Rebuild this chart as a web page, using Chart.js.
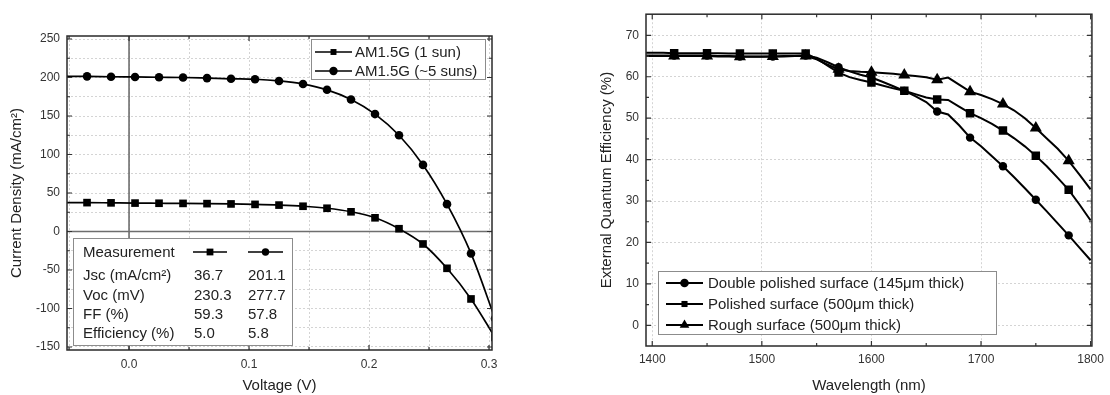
<!DOCTYPE html>
<html><head><meta charset="utf-8">
<script src="https://cdn.jsdelivr.net/npm/chart.js@4/dist/chart.umd.min.js"></script>
<style>
html,body{margin:0;padding:0;background:#fff;width:1110px;height:395px;overflow:hidden}
#c1{position:absolute;left:0;top:0;width:560px;height:395px}
#c2{position:absolute;left:580px;top:0;width:530px;height:395px}
</style></head><body>
<canvas id="c1" width="560" height="395"></canvas>
<canvas id="c2" width="530" height="395"></canvas>
<script>
// ---------- Left chart data (J-V) ----------
const ivVoltage = [-0.055,-0.035,-0.015,0.005,0.025,0.045,0.065,0.085,0.105,0.125,0.145,0.165,0.185,0.205,0.225,0.245,0.265,0.285,0.305];
const jOneSun  = [37.6,37.5,37.2,36.9,36.7,36.5,36.2,35.8,35.2,34.3,32.8,30.2,25.6,17.8,3.6,-16.2,-47.8,-87.6,-137.5];
const jFiveSun = [201.6,201.5,201.0,200.7,200.3,200.0,199.2,198.3,197.7,195.5,191.5,184.0,171.5,152.5,125.0,86.5,35.5,-28.5,-113.0];
const ivSeries = ['AM1.5G (1 sun)', 'AM1.5G (~5 suns)'];
const ivXGrid = [-0.05,0,0.05,0.1,0.15,0.2,0.25,0.3];
const ivXMajor = [0,0.1,0.2,0.3];
const ivXMajorLabels = ['0.0','0.1','0.2','0.3'];
const ivYGrid = [-150,-125,-100,-75,-50,-25,0,25,50,75,100,125,150,175,200,225,250];
const ivYMajor = [-150,-100,-50,0,50,100,150,200,250];
const tableHeader = 'Measurement';
const tableRows = ['Jsc (mA/cm\u00B2)','Voc (mV)','FF (%)','Efficiency (%)'];
const tableOneSun = ['36.7','230.3','59.3','5.0'];
const tableFiveSun = ['201.1','277.7','57.8','5.8'];

// ---------- Right chart data (EQE) ----------
const wavelength = [1390,1400,1410,1420,1430,1440,1450,1460,1470,1480,1490,1500,1510,1520,1530,1540,1550,1560,1570,1580,1590,1600,1610,1620,1630,1640,1650,1660,1670,1680,1690,1700,1710,1720,1730,1740,1750,1760,1770,1780,1790,1800];
const eqeDouble   = [65.1,65.1,65.1,65.1,65.1,65.1,65.1,65.0,65.0,64.9,64.9,64.9,64.9,65.0,65.0,65.1,64.6,63.5,62.3,61.3,60.5,59.8,58.8,57.7,56.6,55.3,53.9,51.6,50.9,48.3,45.3,43.2,40.8,38.4,35.8,33.1,30.3,27.5,24.6,21.7,18.7,15.7];
const eqePolished = [65.8,65.8,65.8,65.7,65.7,65.7,65.7,65.7,65.6,65.6,65.6,65.6,65.6,65.6,65.6,65.6,64.4,62.7,61.0,59.9,59.2,58.6,57.9,57.2,56.6,55.8,55.0,54.5,54.4,52.8,51.2,50.0,48.6,47.0,45.2,43.2,40.9,38.4,35.6,32.7,29.1,25.3];
const eqeRough    = [65.0,65.0,65.0,65.0,65.0,65.0,65.0,64.9,64.9,64.8,64.8,64.8,64.9,64.9,65.0,65.0,64.2,62.9,61.8,61.4,61.2,61.1,60.9,60.7,60.4,60.2,59.9,59.3,59.8,58.1,56.4,55.6,54.6,53.4,51.9,50.0,47.6,45.1,42.6,39.7,36.3,32.8];
const eqeMarkerWl = [1420,1450,1480,1510,1540,1570,1600,1630,1660,1690,1720,1750,1780];
const eqeSeries = ['Double polished surface (145\u03BCm thick)','Polished surface (500\u03BCm thick)','Rough surface (500\u03BCm thick)'];
const eqeXMajor = [1400,1500,1600,1700,1800];
const eqeXMinor = [1400,1450,1500,1550,1600,1650,1700,1750,1800];
const eqeYMajor = [0,10,20,30,40,50,60,70];
const eqeYMinor = [0,5,10,15,20,25,30,35,40,45,50,55,60,65,70];

const FONT = '"Liberation Sans", Arial, Helvetica, sans-serif';
Chart.defaults.font.family = FONT;
Chart.defaults.color = '#333';

function near(a, b) { return Math.abs(a - b) < 1e-6; }

function drawMarker(ctx, style, x, y, r) {
  ctx.beginPath();
  if (style === 'circle') {
    ctx.arc(x, y, r, 0, Math.PI * 2);
  } else if (style === 'rect') {
    const s = r * Math.SQRT1_2;
    ctx.rect(x - s, y - s, 2 * s, 2 * s);
  } else if (style === 'triangle') {
    for (let k = 0; k < 3; k++) {
      const a = k * 2 * Math.PI / 3;
      const px = x + Math.sin(a) * r, py = y - Math.cos(a) * r;
      if (k === 0) ctx.moveTo(px, py); else ctx.lineTo(px, py);
    }
    ctx.closePath();
  }
  ctx.fill();
}

function legendSymbol(ctx, style, x1, x2, y, r, lw) {
  ctx.save();
  ctx.strokeStyle = '#000'; ctx.fillStyle = '#000'; ctx.lineWidth = lw;
  ctx.beginPath(); ctx.moveTo(x1, y); ctx.lineTo(x2, y); ctx.stroke();
  drawMarker(ctx, style, (x1 + x2) / 2, y, r);
  ctx.restore();
}

const boxPlugin = {
  id: 'box',
  beforeDatasetsDraw(chart, args, o) {
    const {ctx, chartArea: a, scales: {x, y}} = chart;
    if (o.zeroLines) {
      ctx.save();
      ctx.strokeStyle = '#6e6e6e'; ctx.lineWidth = 1.6;
      const px = x.getPixelForValue(0), py = y.getPixelForValue(0);
      ctx.beginPath();
      ctx.moveTo(px, a.top); ctx.lineTo(px, a.bottom);
      ctx.moveTo(a.left, py); ctx.lineTo(a.right, py);
      ctx.stroke();
      ctx.restore();
    }
  },
  afterDatasetsDraw(chart, args, o) {
    const {ctx, chartArea: a, scales: {x, y}} = chart;
    ctx.save();
    // inner ticks
    ctx.strokeStyle = '#333'; ctx.lineWidth = 1.2;
    ctx.beginPath();
    o.xMinor.forEach(v => {
      const len = o.xMajor.some(m => near(m, v)) ? 5 : 3;
      const p = x.getPixelForValue(v);
      ctx.moveTo(p, a.bottom); ctx.lineTo(p, a.bottom - len);
      ctx.moveTo(p, a.top); ctx.lineTo(p, a.top + len);
    });
    o.yMinor.forEach(v => {
      const len = o.yMajor.some(m => near(m, v)) ? 5 : 3;
      const p = y.getPixelForValue(v);
      ctx.moveTo(a.left, p); ctx.lineTo(a.left + len, p);
      ctx.moveTo(a.right, p); ctx.lineTo(a.right - len, p);
    });
    ctx.stroke();
    // frame
    ctx.strokeStyle = '#2a2a2a'; ctx.lineWidth = 1.5;
    ctx.strokeRect(a.left, a.top, a.right - a.left, a.bottom - a.top);

    ctx.font = '15px ' + FONT;
    ctx.textBaseline = 'middle';
    ctx.fillStyle = '#222';
    // legend box
    if (o.legend) {
      const L = o.legend;
      ctx.fillStyle = '#fff';
      ctx.fillRect(L.x, L.y, L.w, L.h);
      ctx.strokeStyle = '#8c8c8c'; ctx.lineWidth = 1;
      ctx.strokeRect(L.x + 0.5, L.y + 0.5, L.w, L.h);
      chart.data.datasets.forEach((ds, i) => {
        const ry = L.rowY[i];
        const r = ds.pointStyle === 'triangle' ? L.r * 1.3 : L.r;
        legendSymbol(ctx, ds.pointStyle, L.lx1, L.lx2, ry, r, L.lw);
        ctx.fillStyle = '#222';
        ctx.fillText(ds.label, L.tx, ry + 1);
      });
    }
    // table
    if (o.table) {
      const T = o.table;
      ctx.fillStyle = '#fff';
      ctx.fillRect(T.x, T.y, T.w, T.h);
      ctx.strokeStyle = '#8c8c8c'; ctx.lineWidth = 1;
      ctx.strokeRect(T.x + 0.5, T.y + 0.5, T.w, T.h);
      ctx.fillStyle = '#222';
      ctx.fillText(tableHeader, T.c0, T.rowY[0] + 1);
      const ds = chart.data.datasets;
      legendSymbol(ctx, ds[0].pointStyle, T.c1 - 1, T.c1 + 33, T.rowY[0], 4.8, 1.6);
      legendSymbol(ctx, ds[1].pointStyle, T.c2, T.c2 + 35, T.rowY[0], 3.7, 1.6);
      ctx.fillStyle = '#222';
      tableRows.forEach((t, i) => {
        const ry = T.rowY[i + 1] + 1;
        ctx.fillText(t, T.c0, ry);
        ctx.fillText(tableOneSun[i], T.c1, ry);
        ctx.fillText(tableFiveSun[i], T.c2, ry);
      });
    }
    ctx.restore();
  }
};

const gridStyle = {color: '#d4d4d4', lineWidth: 1, drawTicks: false};
const borderStyle = {display: false, dash: [2, 2]};

// ---------- Left chart ----------
new Chart(document.getElementById('c1'), {
  type: 'line',
  data: {
    datasets: [
      {label: ivSeries[0], data: ivVoltage.map((v, i) => ({x: v, y: jOneSun[i]})),
       pointStyle: 'rect', pointRadius: 5.4, pointBorderWidth: 0,
       borderColor: '#000', backgroundColor: '#000', pointBackgroundColor: '#000',
       borderWidth: 1.7, cubicInterpolationMode: 'monotone'},
      {label: ivSeries[1], data: ivVoltage.map((v, i) => ({x: v, y: jFiveSun[i]})),
       pointStyle: 'circle', pointRadius: 4.3, pointBorderWidth: 0,
       borderColor: '#000', backgroundColor: '#000', pointBackgroundColor: '#000',
       borderWidth: 1.7, cubicInterpolationMode: 'monotone'}
    ]
  },
  options: {
    responsive: false, animation: false, devicePixelRatio: 1,
    layout: {padding: {top: 36, right: 68, left: 0, bottom: 0}},
    plugins: {
      legend: {display: false}, tooltip: {enabled: false},
      box: {
        zeroLines: true,
        xMinor: ivXGrid, xMajor: ivXMajor, yMinor: ivYGrid, yMajor: ivYMajor,
        legend: {x: 311, y: 39, w: 174, h: 40, lx1: 315, lx2: 352, tx: 355, rowY: [52, 71], r: 4.2, lw: 1.6},
        table: {x: 73, y: 238, w: 219, h: 107, c0: 83, c1: 194, c2: 248, rowY: [252, 275, 295, 314, 333]}
      }
    },
    scales: {
      x: {
        type: 'linear', min: -0.0517, max: 0.3025,
        afterBuildTicks: s => { s.ticks = ivXGrid.map(v => ({value: v})); },
        afterFit: s => { s.height = 45; },
        grid: gridStyle, border: borderStyle,
        ticks: {autoSkip: false, maxRotation: 0, padding: 7, font: {size: 12}, color: '#333',
          callback: v => { const k = ivXMajor.findIndex(m => near(m, v)); return k >= 0 ? ivXMajorLabels[k] : ''; }},
        title: {display: true, text: 'Voltage (V)', font: {size: 15}, color: '#222', padding: {top: 0, bottom: 0}}
      },
      y: {
        type: 'linear', min: -153.9, max: 253.9,
        afterBuildTicks: s => { s.ticks = ivYGrid.map(v => ({value: v})); },
        afterFit: s => { s.width = 67; },
        grid: gridStyle, border: borderStyle,
        ticks: {autoSkip: false, padding: 7, font: {size: 12}, color: '#333',
          callback: v => ivYMajor.some(m => near(m, v)) ? String(v) : ''},
        title: {display: true, text: 'Current Density (mA/cm\u00B2)', font: {size: 15}, color: '#222', padding: {top: 8, bottom: 0}}
      }
    }
  },
  plugins: [boxPlugin]
});

// ---------- Right chart ----------
function eqeDataset(label, values, style, r) {
  return {
    label: label,
    data: wavelength.map((w, i) => ({x: w, y: values[i]})),
    pointStyle: style,
    pointRadius: wavelength.map(w => eqeMarkerWl.includes(w) ? r : 0),
    pointBorderWidth: 0,
    borderColor: '#000', backgroundColor: '#000', pointBackgroundColor: '#000',
    borderWidth: 2, tension: 0
  };
}

new Chart(document.getElementById('c2'), {
  type: 'line',
  data: {
    datasets: [
      eqeDataset(eqeSeries[0], eqeDouble, 'circle', 4.2),
      eqeDataset(eqeSeries[1], eqePolished, 'rect', 6),
      eqeDataset(eqeSeries[2], eqeRough, 'triangle', 7)
    ]
  },
  options: {
    responsive: false, animation: false, devicePixelRatio: 1,
    layout: {padding: {top: 11, right: 13, left: 0, bottom: 0}},
    plugins: {
      legend: {display: false}, tooltip: {enabled: false},
      box: {
        zeroLines: false,
        xMinor: eqeXMinor, xMajor: eqeXMajor, yMinor: eqeYMinor, yMajor: eqeYMajor,
        legend: {x: 78, y: 271, w: 338, h: 63, lx1: 86, lx2: 123, tx: 128, rowY: [283, 304, 325], r: 4.3, lw: 1.8}
      }
    },
    scales: {
      x: {
        type: 'linear', min: 1394.3, max: 1801.2,
        afterBuildTicks: s => { s.ticks = eqeXMajor.map(v => ({value: v})); },
        afterFit: s => { s.height = 49; },
        grid: gridStyle, border: borderStyle,
        ticks: {autoSkip: false, maxRotation: 0, padding: 6, font: {size: 12}, color: '#333',
          callback: v => String(v)},
        title: {display: true, text: 'Wavelength (nm)', font: {size: 15}, color: '#222', padding: {top: 0, bottom: 0}}
      },
      y: {
        type: 'linear', min: -5, max: 75.1,
        afterBuildTicks: s => { s.ticks = eqeYMajor.map(v => ({value: v})); },
        afterFit: s => { s.width = 66; },
        grid: gridStyle, border: borderStyle,
        ticks: {autoSkip: false, padding: 7, font: {size: 12}, color: '#333',
          callback: v => String(v)},
        title: {display: true, text: 'External Quantum Efficiency (%)', font: {size: 15}, color: '#222', padding: {top: 18, bottom: 0}}
      }
    }
  },
  plugins: [boxPlugin]
});
</script>
</body></html>
